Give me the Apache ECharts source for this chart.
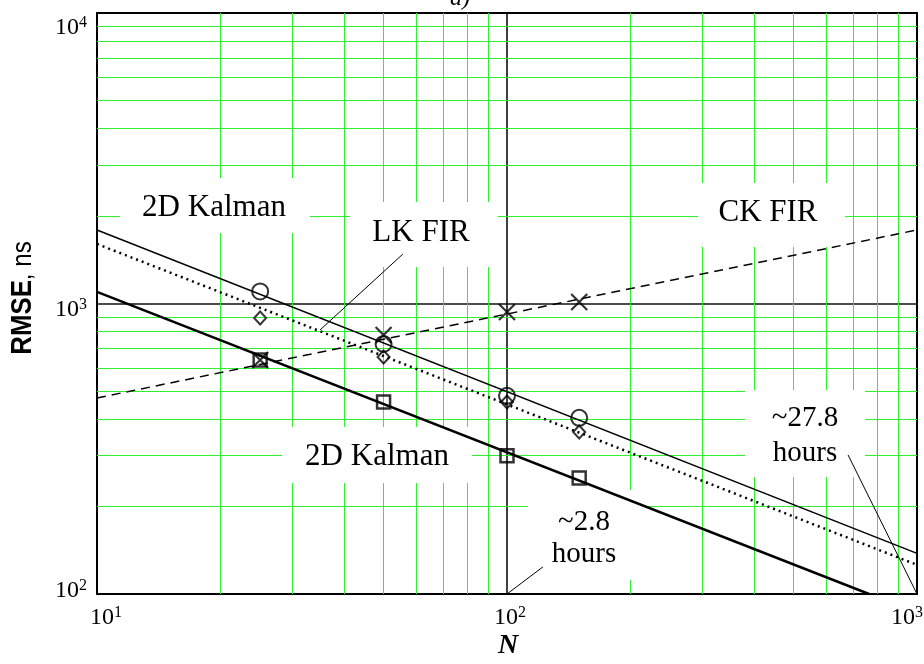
<!DOCTYPE html>
<html><head><meta charset="utf-8">
<script src="https://cdn.jsdelivr.net/npm/echarts@6/dist/echarts.min.js"></script>
<style>html,body{margin:0;padding:0;background:#fff}#c{width:924px;height:664px}</style>
</head><body><div id="c"></div>
<script>
// ---- data ----
var N = [25, 50, 100, 150];
var kalmanCircles = [1100, 726, 481, 404];
var lkFirDiamonds = [891, 654, 458, 361];
var ckFirCrosses = [639, 779, 935, 1012];
var kalman2Squares = [639, 458, 299, 251];

var fitN = [10, 1000];
var kalmanFit = [1791, 138];
var lkFirFit = [1603, 126];
var ckFirFit = [473, 1791];
var kalman2FitN = [10, 764];
var kalman2Fit = [1096, 100];

var xMinor = [20, 30, 40, 50, 60, 70, 80, 90, 200, 300, 400, 500, 600, 700, 800, 900];
var yMinor = [200, 300, 400, 500, 600, 700, 800, 900, 2000, 3000, 4000, 5000, 6000, 7000, 8000, 9000];
var xTicks = [10, 100, 1000];
var yTicks = [100, 1000, 10000];

// leader lines [ [x1,y1],[x2,y2] ] in data units
var leaderLK = [[55.7, 1479], [35.0, 811]];
var leader28 = [[122.4, 124], [100, 100]];
var leader278 = [[679, 301], [1000, 100]];

function pairs(xs, ys) { return xs.map(function (x, i) { return [x, ys[i]]; }); }

var serif = "'Liberation Serif','Times New Roman',serif";
var chart = echarts.init(document.getElementById('c'), null, {renderer: 'canvas'});

function expOf(v) { return Math.round(Math.log(v) / Math.LN10); }
function base(pad) { return {fontFamily: serif, fontSize: 24, color: '#000', padding: pad, verticalAlign: 'bottom'}; }
function sup(pad) { return {fontFamily: serif, fontSize: 16, color: '#000', padding: pad, verticalAlign: 'bottom'}; }

var option = {
  animation: false,
  backgroundColor: '#fff',
  grid: {left: 97, right: 7, top: 13, bottom: 70, containLabel: false, outerBoundsMode: 'none'},
  xAxis: [{
    type: 'log', logBase: 10, min: 10, max: 1000, position: 'bottom',
    axisLine: {show: true, onZero: false, lineStyle: {color: '#000', width: 2}},
    axisTick: {show: false},
    splitLine: {show: true, lineStyle: {color: '#111', width: 1.6}},
    axisLabel: {
      margin: 11,
      formatter: function (v) { var e = expOf(v); return '{b' + e + '|10}{s' + e + '|' + e + '}'; },
      rich: {
        b1: base([0, 0, 0, 18]), s1: sup([0, 0, 9, 0]),
        b2: base([0, 0, 0, 6]), s2: sup([0, 0, 9, 0]),
        b3: base([0, 0, 0, 0]), s3: sup([0, 20, 9, 0])
      }
    }
  }, {
    type: 'log', logBase: 10, min: 10, max: 1000, position: 'top',
    axisLine: {show: true, onZero: false, lineStyle: {color: '#000', width: 2}},
    axisTick: {show: false}, axisLabel: {show: false}, splitLine: {show: false}
  }],
  yAxis: [{
    type: 'log', logBase: 10, min: 100, max: 10000, position: 'left',
    axisLine: {show: true, onZero: false, lineStyle: {color: '#000', width: 2}},
    axisTick: {show: false},
    splitLine: {show: true, lineStyle: {color: '#111', width: 1.6}},
    axisLabel: {
      margin: 10,
      formatter: function (v) { var e = expOf(v); return '{b' + e + '|10}{s' + e + '|' + e + '}'; },
      rich: {
        b4: base([30, 0, 0, 0]), s4: sup([0, 0, 9, 0]),
        b3: base([12, 0, 0, 0]), s3: sup([0, 0, 9, 0]),
        b2: base([0, 0, 8, 0]), s2: sup([0, 0, 17, 0])
      }
    }
  }, {
    type: 'log', logBase: 10, min: 100, max: 10000, position: 'right',
    axisLine: {show: true, onZero: false, lineStyle: {color: '#000', width: 2}},
    axisTick: {show: false}, axisLabel: {show: false}, splitLine: {show: false}
  }],
  series: [
    {
      name: 'grid', type: 'line', z: 1, data: [[10, 100]], showSymbol: false, silent: true,
      lineStyle: {opacity: 0},
      markLine: {
        z: 1, silent: true, symbol: 'none', label: {show: false},
        lineStyle: {color: '#2ef02e', width: 1, type: 'solid'},
        data: xMinor.map(function (v) { return {xAxis: v}; }).concat(yMinor.map(function (v) { return {yAxis: v}; }))
      }
    },
    {
      name: 'leaders', type: 'line', z: 4, data: [[10, 100]], showSymbol: false, silent: true,
      lineStyle: {opacity: 0},
      markLine: {
        z: 6, silent: true, symbol: 'none', label: {show: false},
        lineStyle: {color: '#000', width: 1, type: 'solid'},
        data: [
          [{coord: leaderLK[0]}, {coord: leaderLK[1]}],
          [{coord: leader28[0]}, {coord: leader28[1]}],
          [{coord: leader278[0]}, {coord: leader278[1]}]
        ]
      }
    },
    {name: '2D Kalman fit', type: 'line', z: 4, data: pairs(fitN, kalmanFit), showSymbol: false,
      lineStyle: {color: '#000', width: 1.5}},
    {name: 'LK FIR fit', type: 'line', z: 4, data: pairs(fitN, lkFirFit), showSymbol: false,
      lineStyle: {color: '#000', width: 2.5, type: [2, 4]}},
    {name: 'CK FIR fit', type: 'line', z: 4, data: pairs(fitN, ckFirFit), showSymbol: false,
      lineStyle: {color: '#000', width: 1.5, type: [9, 6]}},
    {name: '2D Kalman 2 fit', type: 'line', z: 4, data: pairs(kalman2FitN, kalman2Fit), showSymbol: false,
      lineStyle: {color: '#000', width: 2.5}},
    {name: 'circles', type: 'scatter', z: 5, data: pairs(N, kalmanCircles), symbol: 'circle', symbolSize: 16,
      itemStyle: {color: 'rgba(0,0,0,0)', borderColor: '#000', borderWidth: 2}},
    {name: 'diamonds', type: 'scatter', z: 5, data: pairs(N, lkFirDiamonds), symbol: 'diamond', symbolSize: [12, 13],
      itemStyle: {color: 'rgba(0,0,0,0)', borderColor: '#000', borderWidth: 2}},
    {name: 'crosses', type: 'scatter', z: 5, data: pairs(N, ckFirCrosses), symbol: 'path://M0,0L10,10M10,0L0,10', symbolSize: 16,
      itemStyle: {color: 'rgba(0,0,0,0)', borderColor: '#000', borderWidth: 2.2}},
    {name: 'squares', type: 'scatter', z: 5, data: pairs(N, kalman2Squares), symbol: 'rect', symbolSize: 13,
      itemStyle: {color: 'rgba(0,0,0,0)', borderColor: '#000', borderWidth: 2.5}}
  ],
  graphic: {elements: [
    // white boxes behind annotations (above grid lines, below data)
    {type: 'rect', z: 2, silent: true, shape: {x: 120, y: 178, width: 190, height: 55}, style: {fill: '#fff'}},
    {type: 'rect', z: 2, silent: true, shape: {x: 350, y: 202, width: 148, height: 65}, style: {fill: '#fff'}},
    {type: 'rect', z: 2, silent: true, shape: {x: 698, y: 183, width: 147, height: 64}, style: {fill: '#fff'}},
    {type: 'rect', z: 2, silent: true, shape: {x: 282, y: 427, width: 190, height: 56}, style: {fill: '#fff'}},
    {type: 'rect', z: 2, silent: true, shape: {x: 528, y: 490, width: 119, height: 90}, style: {fill: '#fff'}},
    {type: 'rect', z: 2, silent: true, shape: {x: 745, y: 390, width: 120, height: 87}, style: {fill: '#fff'}},
    // annotation texts
    {type: 'text', z: 10, x: 214, y: 208, style: {text: '2D Kalman', font: '31px ' + serif, fill: '#000', textAlign: 'center', textVerticalAlign: 'middle'}},
    {type: 'text', z: 10, x: 421, y: 233, style: {text: 'LK FIR', font: '31px ' + serif, fill: '#000', textAlign: 'center', textVerticalAlign: 'middle'}},
    {type: 'text', z: 10, x: 768, y: 213, style: {text: 'CK FIR', font: '31px ' + serif, fill: '#000', textAlign: 'center', textVerticalAlign: 'middle'}},
    {type: 'text', z: 10, x: 377, y: 457, style: {text: '2D Kalman', font: '31px ' + serif, fill: '#000', textAlign: 'center', textVerticalAlign: 'middle'}},
    {type: 'text', z: 10, x: 584, y: 522, style: {text: '~2.8', font: '29px ' + serif, fill: '#000', textAlign: 'center', textVerticalAlign: 'middle'}},
    {type: 'text', z: 10, x: 584, y: 554, style: {text: 'hours', font: '29px ' + serif, fill: '#000', textAlign: 'center', textVerticalAlign: 'middle'}},
    {type: 'text', z: 10, x: 805, y: 418, style: {text: '~27.8', font: '29px ' + serif, fill: '#000', textAlign: 'center', textVerticalAlign: 'middle'}},
    {type: 'text', z: 10, x: 805, y: 453, style: {text: 'hours', font: '29px ' + serif, fill: '#000', textAlign: 'center', textVerticalAlign: 'middle'}},
    // title (clipped at top)
    {type: 'text', z: 10, x: 460, y: 11, style: {text: 'a)', font: 'italic 24px ' + serif, fill: '#000', textAlign: 'center', textVerticalAlign: 'bottom'}},
    // axis names
    {type: 'text', z: 10, x: 508, y: 646, style: {text: 'N', font: 'italic bold 28px ' + serif, fill: '#000', textAlign: 'center', textVerticalAlign: 'middle'}},
    {type: 'text', z: 10, x: 23, y: 298, rotation: Math.PI / 2, scaleX: 0.86, style: {
      text: '{b|RMSE}{r|, ns}', textAlign: 'center', textVerticalAlign: 'middle',
      rich: {
        b: {font: "bold 30px 'Liberation Sans Narrow','Arial Narrow','Liberation Sans',sans-serif", fill: '#000'},
        r: {font: "28px 'Liberation Sans Narrow','Arial Narrow','Liberation Sans',sans-serif", fill: '#000'}
      }
    }}
  ]}
};
chart.setOption(option);
</script>
</body></html>
